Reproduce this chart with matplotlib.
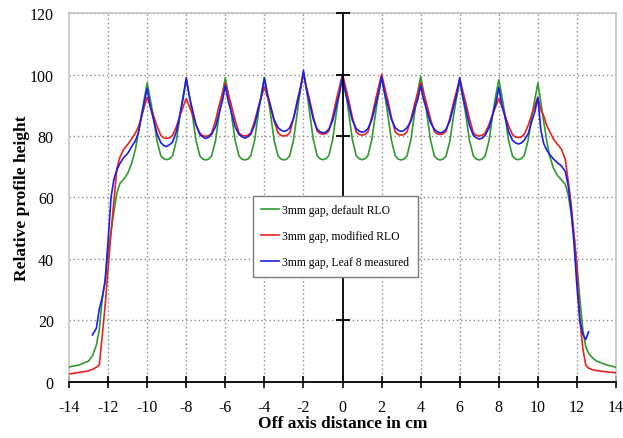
import numpy as np
import matplotlib
matplotlib.use('Agg')
import matplotlib.pyplot as plt

plt.rcParams['font.family'] = ['Liberation Serif', 'DejaVu Serif']
plt.rcParams['axes.unicode_minus'] = False

# --- data ---
x_left = [-14, -13.5, -13, -12.8, -12.6, -12.45, -12.3, -12.15, -12.0, -11.85,
          -11.7, -11.55, -11.4, -11.2, -11.0, -10.8, -10.6, -10.45, -10.3, -10.15]
x_right = [10.15, 10.3, 10.45, 10.6, 10.8, 11.0, 11.2, 11.4, 11.55, 11.7,
           11.85, 12.0, 12.15, 12.3, 12.45, 12.6, 12.8, 13.0, 13.5, 14.0]
# sample offsets inside one period (peak -> valley -> next peak)
period_offsets = [0, .15, .3, .5, .7, .85, 1, 1.15, 1.3, 1.5, 1.7, 1.85]
peak_x = [-10, -8, -6, -4, -2, 0, 2, 4, 6, 8]
x_mid = [p + o for p in peak_x for o in period_offsets] + [10]

green_left = [4.9, 5.5, 6.8, 8.5, 12, 17, 27, 33, 42, 49,
              55.5, 61.5, 64.5, 66, 67.8, 71, 75.7, 81, 86.5, 92]
green_mid = [
    97.2, 92.2, 87.0, 78.5, 73.5, 72.6, 72.3, 72.6, 73.6, 78.6, 87.5, 93.5,
    98.5, 93.5, 87.5, 78.5, 73.5, 72.5, 72.2, 72.5, 73.5, 78.5, 87.7, 93.9,
    98.9, 93.9, 87.7, 78.6, 73.5, 72.5, 72.2, 72.5, 73.5, 78.6, 87.8, 94.0,
    99.0, 94.0, 87.8, 78.6, 73.5, 72.5, 72.2, 72.5, 73.6, 79.0, 88.5, 95.5,
    100.5, 95.5, 88.5, 79.0, 73.6, 72.6, 72.3, 72.6, 73.6, 79.0, 88.3, 95.0,
    100.0, 95.0, 88.3, 79.0, 73.6, 72.6, 72.3, 72.6, 73.6, 78.8, 87.8, 94.0,
    99.0, 94.0, 87.8, 78.7, 73.5, 72.5, 72.2, 72.5, 73.5, 78.8, 88.0, 94.4,
    99.4, 94.4, 88.0, 78.8, 73.5, 72.5, 72.2, 72.5, 73.5, 78.5, 87.3, 92.8,
    97.8, 92.8, 87.3, 78.5, 73.5, 72.5, 72.2, 72.5, 73.5, 78.5, 87.5, 93.3,
    98.3, 93.3, 87.5, 78.5, 73.5, 72.5, 72.3, 72.6, 73.6, 78.6, 87.0, 92.2,
    97.2]
green_right = [91, 85, 78.5, 73.5, 69.5, 67.2, 65.8, 64.3, 61, 55,
               47.5, 38, 27, 17, 11.5, 9.3, 7.8, 6.8, 5.6, 4.8]

red_left = [2.6, 3.1, 3.6, 4.1, 4.8, 5.5, 15, 25, 37, 48.5,
            59, 69.5, 73, 75.7, 77.2, 79, 81, 83, 86, 89.5]
red_mid = [
    92.6, 89.9, 87.2, 83.2, 80.2, 79.4, 79.2, 79.4, 80.2, 83.1, 87.0, 89.6,
    92.2, 89.7, 87.3, 83.6, 80.9, 80.1, 79.9, 80.1, 80.9, 85.0, 90.3, 93.8,
    97.2, 93.8, 90.3, 85.2, 81.0, 80.2, 80.0, 80.2, 81.0, 84.8, 89.6, 92.8,
    96.0, 92.8, 89.6, 84.8, 81.0, 80.2, 80.0, 80.2, 81.0, 86.0, 92.0, 96.0,
    100.0, 96.1, 92.2, 86.4, 81.6, 80.8, 80.6, 80.8, 81.6, 86.4, 92.2, 96.1,
    100.0, 96.1, 92.1, 86.2, 81.3, 80.5, 80.3, 80.5, 81.3, 86.2, 92.1, 96.1,
    100.0, 96.1, 92.1, 86.2, 81.3, 80.5, 80.3, 80.5, 81.3, 85.5, 90.6, 94.0,
    97.4, 94.0, 90.6, 85.6, 81.5, 80.7, 80.5, 80.7, 81.5, 85.9, 91.3, 94.9,
    98.5, 94.8, 91.1, 85.6, 81.0, 80.2, 80.0, 80.2, 81.0, 83.7, 87.3, 89.8,
    92.2, 89.7, 87.1, 83.3, 80.5, 79.7, 79.5, 79.7, 80.5, 83.4, 87.2, 89.9,
    92.6]
red_right = [88.5, 86.5, 83.5, 81.5, 79, 77.3, 75.8, 72.5, 65.5, 58,
             48, 37, 20, 11, 5.5, 4.5, 4.0, 3.7, 3.3, 3.0]

nan = np.nan
blue_left = [nan, nan, nan, 15.3, 17.5, 23.7, 27.5, 33, 46, 60,
             66, 69, 71, 73, 74.3, 76.5, 78.5, 81, 86, 91]
blue_mid = [
    95.5, 89.8, 86.0, 80.8, 77.8, 76.9, 76.6, 77.2, 78.0, 81.5, 87.8, 92.5,
    99.0, 93.1, 89.1, 83.6, 80.4, 79.7, 79.2, 79.6, 80.6, 83.0, 87.8, 91.4,
    96.4, 91.3, 87.9, 83.1, 80.5, 79.8, 79.3, 79.8, 80.5, 83.6, 89.1, 93.0,
    98.9, 93.7, 90.2, 85.3, 82.7, 81.9, 81.5, 81.8, 82.7, 85.9, 91.4, 95.4,
    101.3, 95.2, 91.2, 85.5, 82.2, 81.4, 81.0, 81.3, 82.2, 85.1, 90.3, 94.0,
    99.5, 94.0, 90.4, 85.2, 82.4, 81.6, 81.2, 81.5, 82.4, 85.3, 90.3, 93.9,
    99.4, 94.0, 90.5, 85.4, 82.7, 81.9, 81.5, 81.8, 82.7, 84.8, 89.0, 91.9,
    96.4, 91.8, 88.7, 84.4, 82.2, 81.4, 81.0, 81.3, 82.2, 85.0, 90.0, 93.6,
    99.0, 93.0, 89.0, 83.4, 80.2, 79.4, 79.0, 79.3, 80.2, 82.7, 87.4, 90.8,
    95.8, 90.3, 86.6, 81.4, 78.6, 77.8, 77.4, 77.7, 78.6, 80.7, 85.0, 88.0,
    92.6]
blue_right = [82, 77.5, 75.5, 74, 72.5, 71.3, 70.3, 68.5, 64, 56,
              45, 31, 20, 15.5, 13.8, 16.3, nan, nan, nan, nan]

labels = ['3mm gap, default RLO', '3mm gap, modified RLO', '3mm gap, Leaf 8 measured']
colors = ['#2e9a2e', '#e8221c', '#1c1cf0']

x_all = np.array(x_left + x_mid + x_right)
series = [green_left + green_mid + green_right,
          red_left + red_mid + red_right,
          blue_left + blue_mid + blue_right]

xticks = list(range(-14, 15, 2))
yticks = list(range(0, 121, 20))

fig = plt.figure(figsize=(6.23, 4.39), dpi=100)
ax = fig.add_axes([0.1108, 0.1276, 0.878, 0.8405])

# grid
for xv in xticks[1:]:
    if xv != 0:
        ax.axvline(xv, color='#8c8c8c', lw=1.0, ls=(0, (1, 2)), zorder=1)
for yv in yticks[1:]:
    ax.axhline(yv, color='#8c8c8c', lw=1.0, ls=(0, (1, 2)), zorder=1)

for ys, lab, c in zip(series, labels, colors):
    ax.plot(x_all, np.array(ys, dtype=float), color=c, lw=1.2, label=lab, zorder=3)

# central axis with crossing ticks
ax.axvline(0, color='black', lw=1.3, zorder=4)
ax.plot([0] * len(yticks[1:]), yticks[1:], ls='none', marker='_', ms=10,
        mew=1.3, color='black', zorder=4, clip_on=False)

ax.set_xlim(-14, 14)
ax.set_ylim(0, 120)
ax.set_xticks(xticks)
ax.set_yticks(yticks)
ax.tick_params(axis='x', direction='inout', length=8, width=1.2, color='black',
               labelsize=11.5, pad=8)
ax.tick_params(axis='y', length=0, labelsize=11.5, pad=11)

for side in ['left', 'top', 'right']:
    ax.spines[side].set_color('#c4c4c4')
    ax.spines[side].set_linewidth(1.2)
ax.spines['bottom'].set_color('black')
ax.spines['bottom'].set_linewidth(1.3)
ax.spines['bottom'].set_zorder(5)

ax.set_xlabel('Off axis distance in cm', fontsize=12.5, fontweight='bold', labelpad=0)
ax.set_ylabel('Relative profile height', fontsize=12.5, fontweight='bold', labelpad=0)

leg = ax.legend(loc='lower left', bbox_to_anchor=(0.336, 0.285), fontsize=8.4,
                frameon=True, fancybox=False, edgecolor='#7a7a7a', framealpha=1,
                handlelength=1.5, handletextpad=0.3, labelspacing=1.2,
                borderpad=0.73, borderaxespad=0)
leg.get_frame().set_linewidth(1.0)
leg.set_zorder(6)

fig.savefig('out.png', dpi=100)
